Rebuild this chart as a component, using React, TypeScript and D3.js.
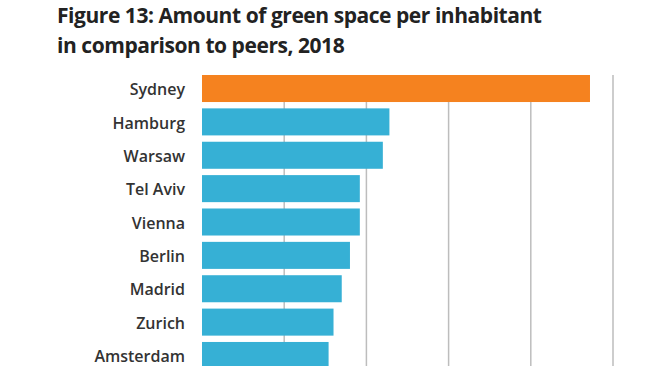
import { FC } from 'react';
import * as d3 from 'd3';

const cities = ['Sydney', 'Hamburg', 'Warsaw', 'Tel Aviv', 'Vienna', 'Berlin', 'Madrid', 'Zurich', 'Amsterdam'];
const greenSpace = [236, 114, 110, 96, 96, 90, 85, 80, 77];
const gridTicks = [50, 100, 150, 200, 250];
const highlight = 'Sydney';

const width = 650;
const height = 366;
const x0 = 202;

const App: FC = () => {
  const xScale = d3.scaleLinear().domain([0, 250]).range([x0, 613]);
  const yScale = d3.scaleBand<string>().domain(cities).range([75, 369]).paddingInner(0.19).paddingOuter(0);

  return (
    <svg
      width={width}
      height={height}
      style={{ position: 'absolute', left: 0, top: 0, background: '#fff' }}
    >
      <g fontFamily="'Open Sans', sans-serif" fontWeight={700} fill="#222" letterSpacing={-0.45}>
        <text x={57} y={23} fontSize={21}>Figure 13: Amount of green space per inhabitant</text>
        <text x={57} y={53} fontSize={21}>in comparison to peers, 2018</text>
      </g>
      <g>
        {gridTicks.map((t) => (
          <line key={t} x1={xScale(t)} x2={xScale(t)} y1={75} y2={height} stroke="#bdbdbd" strokeWidth={1.5} />
        ))}
      </g>
      <g>
        {cities.map((c, i) => (
          <rect
            key={c}
            x={xScale(0)}
            y={yScale(c)}
            width={xScale(greenSpace[i]) - xScale(0)}
            height={yScale.bandwidth()}
            fill={c === highlight ? '#f5821f' : '#36b0d5'}
          />
        ))}
      </g>
      <g fontFamily="'Open Sans', sans-serif" fontWeight={600} fontSize={16} fill="#333" textAnchor="end">
        {cities.map((c) => (
          <text key={c} x={185} y={(yScale(c) ?? 0) + yScale.bandwidth() / 2} dy="0.42em">
            {c}
          </text>
        ))}
      </g>
    </svg>
  );
};

export default App;
